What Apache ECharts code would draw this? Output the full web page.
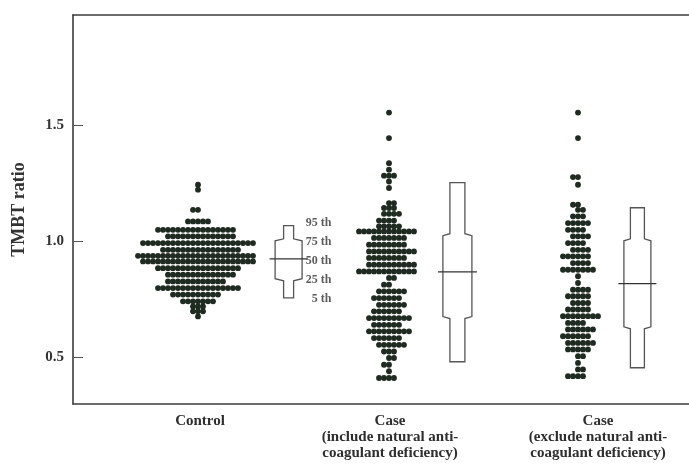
<!DOCTYPE html>
<html><head><meta charset="utf-8">
<script src="https://cdn.jsdelivr.net/npm/echarts@6/dist/echarts.min.js"></script>
<style>html,body{margin:0;padding:0;background:#fff}#c{width:689px;height:464px}</style>
</head><body><div id="c"></div>
<script>
// ---------- DATA ----------
const categories = ['Control', 'Case\n(include natural anti-\ncoagulant deficiency)', 'Case\n(exclude natural anti-\ncoagulant deficiency)'];
const yTicks = [0.5, 1.0, 1.5];
const percentileLabels = ['95 th', '75 th', '50 th', '25 th', '5 th'];

// dot rows: value level and number of dots at that level
const controlRowValues = [1.244, 1.223, 1.136, 1.086, 1.050, 1.022, 0.993, 0.964, 0.938, 0.914, 0.885, 0.857, 0.828, 0.799, 0.771, 0.742, 0.720, 0.699, 0.677];
const controlRowCounts = [1, 1, 2, 5, 16, 14, 23, 16, 24, 23, 17, 14, 12, 17, 10, 7, 3, 3, 1];

const case1RowValues = [1.555, 1.445, 1.337, 1.309, 1.283, 1.258, 1.230, 1.165, 1.144, 1.119, 1.090, 1.065, 1.043, 1.015, 0.986, 0.957, 0.929, 0.900, 0.871, 0.843, 0.814, 0.785, 0.756, 0.727, 0.699, 0.670, 0.641, 0.613, 0.584, 0.555, 0.526, 0.498, 0.469, 0.441, 0.412];
const case1RowCounts = [1, 1, 1, 1, 3, 1, 1, 2, 3, 4, 4, 5, 12, 7, 8, 10, 8, 10, 12, 2, 2, 6, 6, 6, 6, 9, 6, 9, 6, 6, 3, 2, 2, 1, 4];

const case2RowValues = [1.555, 1.445, 1.277, 1.244, 1.158, 1.136, 1.108, 1.079, 1.050, 1.022, 0.993, 0.964, 0.936, 0.907, 0.878, 0.850, 0.821, 0.792, 0.764, 0.735, 0.707, 0.678, 0.649, 0.621, 0.592, 0.563, 0.535, 0.506, 0.477, 0.449, 0.420];
const case2RowCounts = [1, 1, 2, 1, 2, 2, 3, 5, 4, 4, 4, 4, 6, 4, 7, 1, 1, 4, 5, 4, 5, 8, 4, 6, 6, 6, 5, 2, 1, 2, 4];

// percentiles: [5th, 25th, 50th, 75th, 95th]
const controlPercentiles = [0.757, 0.835, 0.925, 1.007, 1.068];
const case1Percentiles = [0.482, 0.672, 0.869, 1.029, 1.253];
const case2Percentiles = [0.456, 0.628, 0.818, 1.007, 1.145];

// ---------- LAYOUT (x axis units, 1 unit = 40 px) ----------
const dotCenters = [3.125, 7.9, 12.625];
const boxCenters = [5.39, 9.61, 14.11];
const labelCenters = [3.175, 7.925, 13.125];
const DX = 0.125;                 // column spacing of dots
const boxOuterHalf = [13.5, 14.5, 13.5];   // px
const boxInnerHalf = [5, 7.5, 7];          // px
const medianHalf = [19, 19.5, 19];         // px
const pctLabelX = 6.475;

const groups = [
  { vals: controlRowValues, counts: controlRowCounts, pct: controlPercentiles },
  { vals: case1RowValues, counts: case1RowCounts, pct: case1Percentiles },
  { vals: case2RowValues, counts: case2RowCounts, pct: case2Percentiles }
];

const dots = [];
groups.forEach((g, gi) => {
  g.vals.forEach((v, ri) => {
    const n = g.counts[ri];
    const start = (n % 2 === 0) ? (ri % 2 === 0 ? -n / 2 : -n / 2 + 1) : -(n - 1) / 2;
    for (let i = 0; i < n; i++) dots.push([dotCenters[gi] + (start + i) * DX, v]);
  });
});

const boxData = groups.map((g, gi) => [boxCenters[gi]].concat(g.pct).concat([gi]));

const pctTop = controlPercentiles[4] + 0.012, pctBot = controlPercentiles[0] - 0.004;
const pctData = percentileLabels.map((t, i) => [pctLabelX, pctTop + (pctBot - pctTop) * i / (percentileLabels.length - 1), i]);

const serif = '"Liberation Serif", "DejaVu Serif", serif';
const frame = { show: true, lineStyle: { color: '#3c3c3c', width: 1.6 } };
const chart = echarts.init(document.getElementById('c'));
chart.setOption({
  animation: false,
  backgroundColor: '#fff',
  grid: { left: 73, top: 15, right: 0, height: 389, show: false, outerBoundsMode: 'none' },
  xAxis: [{
    type: 'value', min: 0, max: 15.4, position: 'bottom',
    axisLine: frame, axisTick: { show: false }, splitLine: { show: false },
    axisLabel: {
      customValues: labelCenters,
      formatter: function (v) {
        let best = 0;
        labelCenters.forEach((c, i) => { if (Math.abs(c - v) < Math.abs(labelCenters[best] - v)) best = i; });
        return categories[best];
      },
      margin: 9, fontFamily: serif, fontWeight: 'bold', fontSize: 15, lineHeight: 16, color: '#2e2e2e'
    }
  }, {
    type: 'value', min: 0, max: 15.4, position: 'top',
    axisLine: frame, axisTick: { show: false }, splitLine: { show: false }, axisLabel: { show: false }
  }],
  yAxis: {
    type: 'value', min: 0.3, max: 1.975,
    name: 'TMBT ratio', nameLocation: 'middle', nameGap: 45,
    nameTextStyle: { fontFamily: serif, fontWeight: 'bold', fontSize: 18, color: '#333' },
    axisLine: frame, splitLine: { show: false },
    axisTick: { show: true, inside: true, length: 10, customValues: yTicks, lineStyle: { color: '#555', width: 1 } },
    axisLabel: { customValues: yTicks, formatter: v => v.toFixed(1), margin: 9, fontFamily: serif, fontWeight: 'bold', fontSize: 15, color: '#333' }
  },
  series: [
    {
      type: 'scatter', data: dots, symbolSize: 5.8,
      itemStyle: { color: '#1f2a20', opacity: 1 }, silent: true
    },
    {
      type: 'custom', data: boxData, silent: true,
      renderItem: function (params, api) {
        const gi = api.value(6);
        const cx = api.coord([api.value(0), 1])[0];
        const y = k => api.coord([0, api.value(k)])[1];
        const y5 = y(1), y25 = y(2), y50 = y(3), y75 = y(4), y95 = y(5);
        const wo = boxOuterHalf[gi], wi = boxInnerHalf[gi], wm = medianHalf[gi], b = 1;
        const pts = [
          [cx - wi, y95], [cx + wi, y95], [cx + wi, y75 - b], [cx + wo, y75 + b], [cx + wo, y25 - b],
          [cx + wi, y25 + b], [cx + wi, y5], [cx - wi, y5], [cx - wi, y25 + b], [cx - wo, y25 - b],
          [cx - wo, y75 + b], [cx - wi, y75 - b]
        ];
        return {
          type: 'group', children: [
            { type: 'polygon', shape: { points: pts }, style: { fill: '#fff', stroke: '#555', lineWidth: 1.3 } },
            { type: 'line', shape: { x1: cx - wm, y1: y50, x2: cx + wm, y2: y50 }, style: { stroke: '#333', lineWidth: 1.3 } }
          ]
        };
      }
    },
    {
      type: 'scatter', data: pctData, symbolSize: 1, silent: true,
      itemStyle: { color: 'rgba(0,0,0,0)' },
      label: {
        show: true, position: 'left', distance: 0,
        formatter: p => percentileLabels[p.value[2]],
        fontFamily: serif, fontWeight: 'bold', fontSize: 12, color: '#333'
      }
    }
  ]
});
</script>
</body></html>
